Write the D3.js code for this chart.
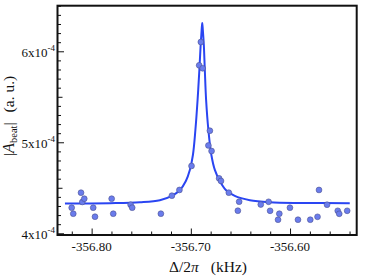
<!DOCTYPE html>
<html>
<head>
<meta charset="utf-8">
<script src="https://cdn.jsdelivr.net/npm/d3@7"></script>
<style>
body { margin: 0; background: #fff; }
text { font-family: "Liberation Serif", "DejaVu Serif", serif; fill: #111; }
</style>
</head>
<body>
<div id="chart"></div>
<script>
// measured points: detuning (kHz) and amplitude (units of 1e-4)
const pointsX = [-356.8201, -356.8185, -356.8107, -356.8094, -356.8074, -356.7984, -356.7966,
	-356.7798, -356.7782, -356.7607, -356.7591, -356.7302, -356.7191, -356.7115,
	-356.6993, -356.6916, -356.6899, -356.6881, -356.6823, -356.6808, -356.6791, -356.6715, -356.6696,
	-356.6617, -356.6526, -356.6513, -356.6295, -356.6216, -356.6201, -356.6121, -356.6108,
	-356.6001, -356.5920, -356.5796, -356.5723, -356.5708, -356.5627, -356.5519, -356.5504, -356.5424];
const pointsY = [4.281, 4.215, 4.446, 4.344, 4.380, 4.281, 4.182,
	4.380, 4.215, 4.314, 4.281, 4.215, 4.413, 4.476,
	4.740, 5.846, 6.102, 5.813, 4.965, 5.127, 4.904, 4.604, 4.575,
	4.446, 4.248, 4.347, 4.316, 4.346, 4.247, 4.149, 4.215,
	4.281, 4.149, 4.149, 4.181, 4.476, 4.314, 4.247, 4.214, 4.247];

// fitted curve
const fitX = [-356.8269, -356.7815, -356.7513, -356.7312, -356.7191, -356.7110, -356.7050, -356.7010,
	-356.6979, -356.6954, -356.6932, -356.6914, -356.6901, -356.6891, -356.6885, -356.6879,
	-356.6869, -356.6859, -356.6846, -356.6823, -356.6793, -356.6758, -356.6708, -356.6647,
	-356.6557, -356.6405, -356.6204, -356.5902, -356.5398];
const fitY = [4.326, 4.331, 4.341, 4.363, 4.410, 4.476, 4.575, 4.696,
	4.860, 5.135, 5.465, 5.795, 6.069, 6.234, 6.311, 6.234,
	6.069, 5.795, 5.465, 5.135, 4.860, 4.696, 4.575, 4.476,
	4.410, 4.363, 4.341, 4.333, 4.331];

const xMajor = [-356.80, -356.70, -356.60];
const xMajorLabels = ["-356.80", "-356.70", "-356.60"];
const yMajor = [4, 5, 6];
const yMajorLabels = ["4x10", "5x10", "6x10"];
const yExponent = "-4";

const W = 374, H = 277;
const margin = {left: 57.5, top: 5.7, right: 17.3, bottom: 42};
const width = W - margin.left - margin.right;
const height = H - margin.top - margin.bottom;

const svg = d3.select("#chart").append("svg")
	.attr("width", W)
	.attr("height", H);

const g = svg.append("g").attr("transform", "translate(" + margin.left + "," + margin.top + ")");

const xscale = d3.scaleLinear().domain([-356.8344, -356.5328]).range([0, width]);
const yscale = d3.scaleLinear().domain([3.981, 6.501]).range([height, 0]);

// minor ticks
const yMinor = d3.range(40, 66).map(v => v / 10).filter(v => !yMajor.includes(v));
const yMid = [4.5, 5.5];
const xMinor = d3.range(-35682, -35653, 2).map(v => v / 100).filter(v => !xMajor.some(m => Math.abs(m - v) < 1e-6));

function tickAxis(axis, ticks, size) {
	return a => a.call(axis.tickValues(ticks).tickSize(size).tickFormat(""))
		.call(a => a.select(".domain").remove())
		.call(a => a.selectAll("line").attr("stroke", "#111").attr("stroke-width", 1));
}

g.append("g").call(tickAxis(d3.axisLeft(yscale), yMinor.filter(v => !yMid.includes(v)), -3.5));
g.append("g").call(tickAxis(d3.axisLeft(yscale), yMid, -5));
g.append("g").call(tickAxis(d3.axisLeft(yscale), yMajor, -6.5));

g.append("g").attr("transform", "translate(0," + height + ")")
	.call(tickAxis(d3.axisBottom(xscale), xMinor, -3.5));
g.append("g").attr("transform", "translate(0," + height + ")")
	.call(tickAxis(d3.axisBottom(xscale), xMajor, -6.5));

// y labels with exponent
yMajor.forEach((v, i) => {
	const t = g.append("text")
		.attr("x", -2.5)
		.attr("y", yscale(v) + 5.5)
		.attr("text-anchor", "end")
		.style("font-size", "13px");
	t.append("tspan").text(yMajorLabels[i]);
	t.append("tspan").attr("dy", -6).style("font-size", "9px").text(yExponent);
});

// x labels
g.selectAll(".xlab").data(xMajor).enter().append("text")
	.attr("class", "xlab")
	.attr("x", d => xscale(d))
	.attr("y", height + 16)
	.attr("text-anchor", "middle")
	.style("font-size", "13px")
	.text((d, i) => xMajorLabels[i]);

// fit line
const fit = fitX.map((x, i) => ({x: x, y: fitY[i]}));
g.append("path").datum(fit)
	.attr("fill", "none")
	.attr("stroke", "#2a45f2")
	.attr("stroke-width", 2)
	.attr("d", d3.line()
		.x(d => xscale(d.x))
		.y(d => yscale(d.y))
		.curve(d3.curveCatmullRom.alpha(0.5)));

// points
g.selectAll("circle").data(pointsX).enter().append("circle")
	.attr("cx", d => xscale(d))
	.attr("cy", (d, i) => yscale(pointsY[i]))
	.attr("r", 2.9)
	.attr("fill", "#6a7cec")
	.attr("stroke", "#4b5090")
	.attr("stroke-width", 0.6);

// frame
g.append("rect")
	.attr("width", width)
	.attr("height", height)
	.attr("fill", "none")
	.attr("stroke", "#111")
	.attr("stroke-width", 2);

// x title
const xt = svg.append("text")
	.attr("x", 208)
	.attr("y", 272)
	.attr("text-anchor", "middle")
	.style("font-size", "15.5px");
xt.append("tspan").text("Δ/2");
xt.append("tspan").style("font-style", "italic").text("π");
xt.append("tspan").attr("dx", 12).text("(kHz)");

// y title
const yt = svg.append("text")
	.attr("transform", "translate(14,116) rotate(-90)")
	.attr("text-anchor", "middle")
	.style("font-size", "15.5px");
yt.append("tspan").text("|");
yt.append("tspan").style("font-style", "italic").style("font-size", "16.5px").text("A");
yt.append("tspan").attr("dy", 3).style("font-size", "10.5px").text("beat");
yt.append("tspan").attr("dy", -3).text("|");
yt.append("tspan").attr("dx", 10).text("(a. u.)");
</script>
</body>
</html>
